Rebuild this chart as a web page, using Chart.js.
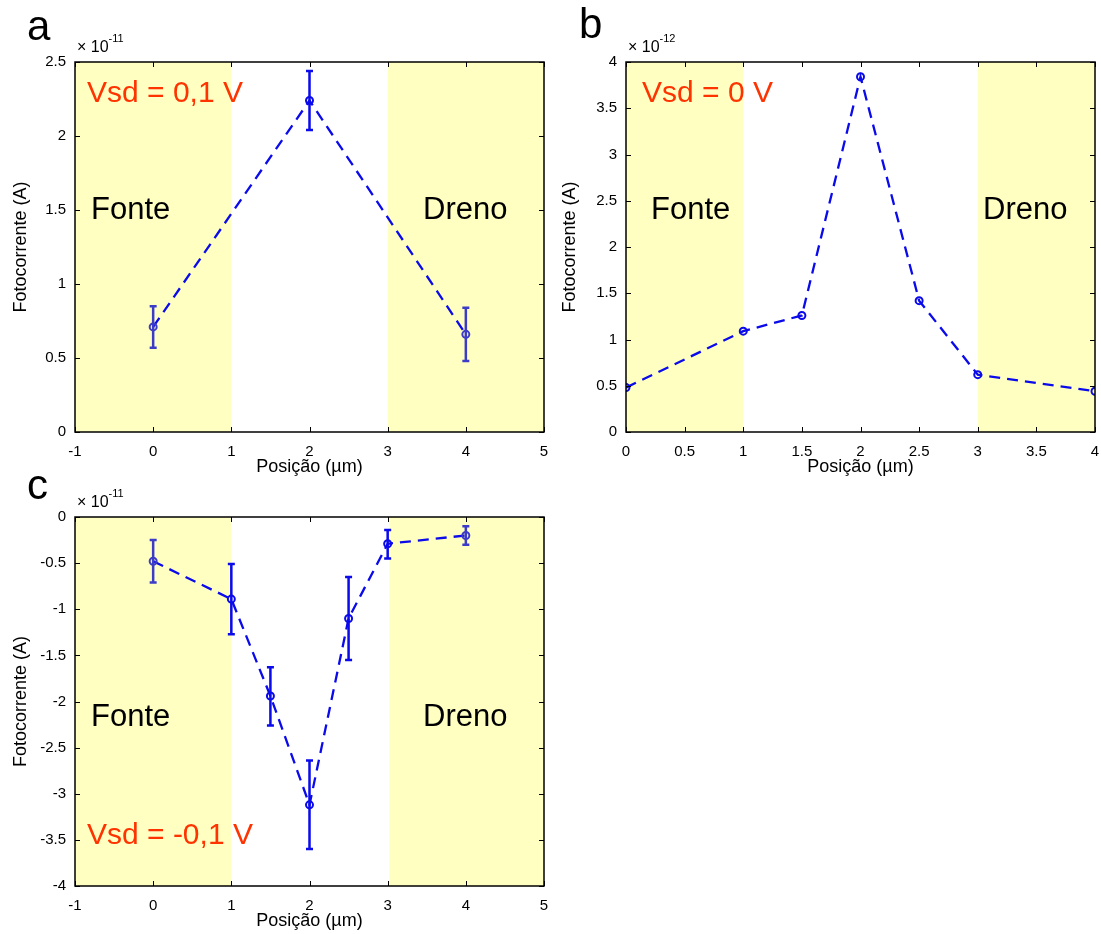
<!DOCTYPE html>
<html>
<head>
<meta charset="utf-8">
<script src="https://cdn.jsdelivr.net/npm/chart.js@4.4.1/dist/chart.umd.min.js"></script>
<style>
  body { margin: 0; background: #fff; width: 1101px; height: 934px; position: relative; overflow: hidden; }
  canvas { position: absolute; }
</style>
</head>
<body>
<canvas id="chartA" width="560" height="480" style="left:0;top:0"></canvas>
<canvas id="chartB" width="552" height="480" style="left:549px;top:0"></canvas>
<canvas id="chartC" width="560" height="464" style="left:0;top:470px"></canvas>
<script>
// painel a : Vsd = 0,1 V  (valores em 1e-11 A)
const posA = [0, 2, 4];
const currA = [0.71, 2.24, 0.66];
const errLowA = [0.57, 2.04, 0.48];
const errHighA = [0.85, 2.44, 0.84];

// painel b : Vsd = 0 V  (valores em 1e-12 A)
const posB = [0, 1, 1.5, 2, 2.5, 3, 4];
const currB = [0.48, 1.09, 1.26, 3.84, 1.42, 0.62, 0.44];

// painel c : Vsd = -0,1 V  (valores em 1e-11 A)
const posC = [0, 1, 1.5, 2, 2.5, 3, 4];
const currC = [-0.48, -0.89, -1.94, -3.12, -1.10, -0.29, -0.20];
const errLowC = [-0.71, -1.27, -2.26, -3.60, -1.55, -0.45, -0.30];
const errHighC = [-0.25, -0.51, -1.63, -2.64, -0.65, -0.14, -0.10];

// regioes dos contatos (Fonte / Dreno), em µm
const zonesA = [[-1, 1], [3, 5]];
const zonesB = [[0, 1], [3, 4]];
const zonesC = [[-1, 1], [3.02, 5]];

const FONT = "'Liberation Sans', Arial, Helvetica, sans-serif";
const BLUE = "rgb(10,10,235)";
const BLUE_DIM = "rgb(60,60,200)";
const YELLOW = "#ffffc2";
const RED = "#ff3300";

Chart.defaults.font.family = FONT;
Chart.defaults.color = "#000";

const inZone = (x, zones) => zones.some(([a, b]) => x > a && x < b);
const fmt = (v) => String(Number(v.toFixed(2)));

const painel = (cfg) => ({
  id: "painel" + cfg.letter,
  beforeDatasetsDraw(chart) {
    const { ctx, chartArea: ar, scales: { x } } = chart;
    ctx.save();
    ctx.fillStyle = YELLOW;
    cfg.zones.forEach(([a, b]) => {
      const x0 = Math.max(x.getPixelForValue(a), ar.left);
      const x1 = Math.min(x.getPixelForValue(b), ar.right);
      ctx.fillRect(x0, ar.top, x1 - x0, ar.bottom - ar.top);
    });
    ctx.restore();
  },
  afterDatasetsDraw(chart) {
    if (!cfg.errLow) return;
    const { ctx, scales: { x, y } } = chart;
    ctx.save();
    ctx.lineWidth = 2.5;
    cfg.xs.forEach((v, i) => {
      const px = x.getPixelForValue(v);
      const lo = y.getPixelForValue(cfg.errLow[i]);
      const hi = y.getPixelForValue(cfg.errHigh[i]);
      ctx.strokeStyle = inZone(v, cfg.zones) ? BLUE_DIM : BLUE;
      ctx.beginPath();
      ctx.moveTo(px, lo); ctx.lineTo(px, hi);
      ctx.moveTo(px - 3.5, lo); ctx.lineTo(px + 3.5, lo);
      ctx.moveTo(px - 3.5, hi); ctx.lineTo(px + 3.5, hi);
      ctx.stroke();
    });
    ctx.restore();
  },
  afterDraw(chart) {
    const { ctx, chartArea: ar, scales: { x, y } } = chart;
    ctx.save();
    // ticks para dentro, nos quatro lados
    ctx.strokeStyle = "#000";
    ctx.lineWidth = 1;
    ctx.beginPath();
    x.ticks.forEach((t) => {
      const px = Math.round(x.getPixelForValue(t.value)) + 0.5;
      ctx.moveTo(px, ar.bottom); ctx.lineTo(px, ar.bottom - 5);
      ctx.moveTo(px, ar.top); ctx.lineTo(px, ar.top + 5);
    });
    y.ticks.forEach((t) => {
      const py = Math.round(y.getPixelForValue(t.value)) + 0.5;
      ctx.moveTo(ar.left, py); ctx.lineTo(ar.left + 5, py);
      ctx.moveTo(ar.right, py); ctx.lineTo(ar.right - 5, py);
    });
    ctx.stroke();
    ctx.lineWidth = 1.5;
    ctx.strokeRect(ar.left, ar.top, ar.right - ar.left, ar.bottom - ar.top);

    // textos
    ctx.textBaseline = "alphabetic";
    ctx.textAlign = "left";
    ctx.fillStyle = "#000";
    ctx.font = "42px " + FONT;
    ctx.fillText(cfg.letter, cfg.letterPos[0], cfg.letterPos[1]);

    ctx.font = "16px " + FONT;
    const base = "\u00d7 10";
    ctx.fillText(base, ar.left + 2, ar.top - 10);
    const w = ctx.measureText(base).width;
    ctx.font = "11px " + FONT;
    ctx.fillText(cfg.exp, ar.left + 2 + w, ar.top - 20);

    cfg.notes.forEach((n) => {
      ctx.font = n.size + "px " + FONT;
      ctx.fillStyle = n.color;
      ctx.fillText(n.text, n.x, n.y);
    });
    ctx.restore();
  }
});

function makeChart(id, cfg) {
  return new Chart(document.getElementById(id), {
    type: "scatter",
    data: {
      datasets: [{
        data: cfg.xs.map((v, i) => ({ x: v, y: cfg.ys[i] })),
        showLine: true,
        borderColor: BLUE,
        borderWidth: 2.3,
        borderDash: [11, 7],
        pointRadius: 3.5,
        pointBorderWidth: 2,
        pointBackgroundColor: "rgba(0,0,0,0)",
        pointBorderColor: (c) => (inZone(cfg.xs[c.dataIndex], cfg.zones) ? BLUE_DIM : BLUE)
      }]
    },
    options: {
      responsive: false,
      animation: false,
      layout: { padding: cfg.padding },
      plugins: { legend: { display: false }, tooltip: { enabled: false } },
      scales: {
        x: {
          type: "linear",
          min: cfg.xRange[0],
          max: cfg.xRange[1],
          grid: { display: false, drawTicks: false },
          border: { display: false },
          ticks: { stepSize: cfg.xStep, padding: 11, autoSkip: false, maxRotation: 0, font: { size: 15 }, callback: fmt },
          title: { display: true, text: "Posição (µm)", font: { size: 18 }, padding: { top: 0, bottom: 2 } },
          afterFit: (s) => { s.height = 48; s.paddingLeft = 0; s.paddingRight = 0; }
        },
        y: {
          type: "linear",
          min: cfg.yRange[0],
          max: cfg.yRange[1],
          grid: { display: false, drawTicks: false },
          border: { display: false },
          ticks: { stepSize: 0.5, padding: 9, autoSkip: false, font: { size: 15 }, callback: fmt },
          title: { display: true, text: "Fotocorrente (A)", font: { size: 18 }, padding: { top: 10, bottom: 0 } },
          afterFit: (s) => { s.width = cfg.yWidth; }
        }
      }
    },
    plugins: [painel(cfg)]
  });
}

makeChart("chartA", {
  letter: "a", letterPos: [27, 40], exp: "-11",
  xs: posA, ys: currA, errLow: errLowA, errHigh: errHighA, zones: zonesA,
  xRange: [-1, 5], xStep: 1, yRange: [0, 2.5],
  padding: { left: 0, top: 62, right: 16, bottom: 0 }, yWidth: 75,
  notes: [
    { text: "Vsd = 0,1 V", x: 87, y: 102, size: 30, color: RED },
    { text: "Fonte", x: 91, y: 219, size: 31, color: "#000" },
    { text: "Dreno", x: 423, y: 219, size: 31, color: "#000" }
  ]
});

makeChart("chartB", {
  letter: "b", letterPos: [30, 38], exp: "-12",
  xs: posB, ys: currB, zones: zonesB,
  xRange: [0, 4], xStep: 0.5, yRange: [0, 4],
  padding: { left: 0, top: 62, right: 6, bottom: 0 }, yWidth: 77,
  notes: [
    { text: "Vsd = 0 V", x: 93, y: 102, size: 30, color: RED },
    { text: "Fonte", x: 102, y: 219, size: 31, color: "#000" },
    { text: "Dreno", x: 434, y: 219, size: 31, color: "#000" }
  ]
});

makeChart("chartC", {
  letter: "c", letterPos: [27, 29], exp: "-11",
  xs: posC, ys: currC, errLow: errLowC, errHigh: errHighC, zones: zonesC,
  xRange: [-1, 5], xStep: 1, yRange: [-4, 0],
  padding: { left: 0, top: 47, right: 16, bottom: 0 }, yWidth: 75,
  notes: [
    { text: "Vsd = -0,1 V", x: 87, y: 374, size: 30, color: RED },
    { text: "Fonte", x: 91, y: 256, size: 31, color: "#000" },
    { text: "Dreno", x: 423, y: 256, size: 31, color: "#000" }
  ]
});
</script>
</body>
</html>
